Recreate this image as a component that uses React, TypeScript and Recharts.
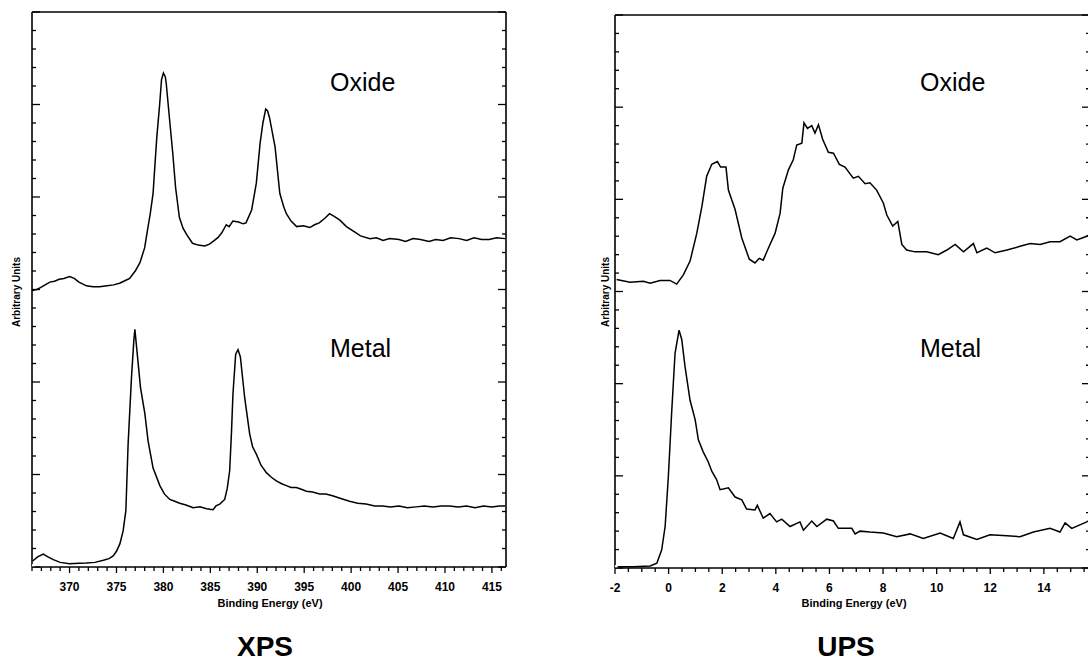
import React from 'react';
import { LineChart, Line, XAxis, YAxis } from 'recharts';

type P = { x: number; y: number };

// XPS: binding energy (eV) vs arbitrary intensity
const xpsOxide: P[] = [
  { x: 366.0, y: 2.99 }, { x: 366.5, y: 3.0 }, { x: 366.9, y: 3.02 }, { x: 367.4, y: 3.05 },
  { x: 367.9, y: 3.08 }, { x: 368.4, y: 3.09 }, { x: 368.9, y: 3.11 }, { x: 369.4, y: 3.12 },
  { x: 370.0, y: 3.14 }, { x: 370.5, y: 3.12 }, { x: 371.0, y: 3.08 }, { x: 371.8, y: 3.04 },
  { x: 372.5, y: 3.03 }, { x: 373.2, y: 3.03 }, { x: 374.0, y: 3.04 }, { x: 374.7, y: 3.05 },
  { x: 375.4, y: 3.07 }, { x: 376.0, y: 3.1 }, { x: 376.4, y: 3.12 }, { x: 377.0, y: 3.2 },
  { x: 377.5, y: 3.29 }, { x: 378.0, y: 3.45 }, { x: 378.3, y: 3.64 }, { x: 378.6, y: 3.82 },
  { x: 378.9, y: 4.04 }, { x: 379.1, y: 4.35 }, { x: 379.3, y: 4.65 }, { x: 379.6, y: 5.0 },
  { x: 379.8, y: 5.27 }, { x: 380.0, y: 5.34 }, { x: 380.2, y: 5.3 }, { x: 380.3, y: 5.23 },
  { x: 380.6, y: 4.9 }, { x: 381.0, y: 4.47 }, { x: 381.3, y: 4.1 }, { x: 381.7, y: 3.78 },
  { x: 382.1, y: 3.66 }, { x: 382.5, y: 3.59 }, { x: 383.1, y: 3.5 }, { x: 383.7, y: 3.48 },
  { x: 384.4, y: 3.47 }, { x: 384.9, y: 3.49 }, { x: 385.3, y: 3.52 }, { x: 385.8, y: 3.56 },
  { x: 386.2, y: 3.61 }, { x: 386.7, y: 3.7 }, { x: 387.0, y: 3.68 }, { x: 387.4, y: 3.74 },
  { x: 388.0, y: 3.73 }, { x: 388.5, y: 3.71 }, { x: 388.8, y: 3.72 }, { x: 389.4, y: 3.86 },
  { x: 389.9, y: 4.15 }, { x: 390.3, y: 4.58 }, { x: 390.6, y: 4.8 }, { x: 390.9, y: 4.95 },
  { x: 391.1, y: 4.93 }, { x: 391.3, y: 4.86 }, { x: 391.9, y: 4.54 }, { x: 392.4, y: 4.04 },
  { x: 392.8, y: 3.9 }, { x: 393.1, y: 3.82 }, { x: 393.6, y: 3.74 }, { x: 394.2, y: 3.68 },
  { x: 394.9, y: 3.69 }, { x: 395.6, y: 3.67 }, { x: 396.1, y: 3.7 }, { x: 396.6, y: 3.72 },
  { x: 397.2, y: 3.77 }, { x: 397.7, y: 3.82 }, { x: 398.2, y: 3.79 }, { x: 398.8, y: 3.75 },
  { x: 399.5, y: 3.68 }, { x: 400.4, y: 3.62 }, { x: 401.0, y: 3.58 }, { x: 402.0, y: 3.55 },
  { x: 402.7, y: 3.56 }, { x: 403.4, y: 3.53 }, { x: 404.1, y: 3.55 }, { x: 405.1, y: 3.54 },
  { x: 405.8, y: 3.52 }, { x: 406.6, y: 3.55 }, { x: 407.4, y: 3.54 }, { x: 408.3, y: 3.52 },
  { x: 409.0, y: 3.54 }, { x: 409.8, y: 3.53 }, { x: 410.6, y: 3.56 }, { x: 411.5, y: 3.55 },
  { x: 412.3, y: 3.53 }, { x: 413.1, y: 3.56 }, { x: 413.9, y: 3.54 }, { x: 414.7, y: 3.54 },
  { x: 415.5, y: 3.56 }, { x: 416.4, y: 3.55 },
];

const xpsMetal: P[] = [
  { x: 366.07, y: 0.065 }, { x: 366.6, y: 0.11 }, { x: 367.2, y: 0.14 }, { x: 367.7, y: 0.11 },
  { x: 368.27, y: 0.08 }, { x: 369.0, y: 0.05 }, { x: 370.0, y: 0.036 }, { x: 371.0, y: 0.04 },
  { x: 371.8, y: 0.043 }, { x: 372.7, y: 0.05 }, { x: 373.6, y: 0.073 }, { x: 374.2, y: 0.09 },
  { x: 374.65, y: 0.12 }, { x: 375.0, y: 0.17 }, { x: 375.36, y: 0.25 }, { x: 375.71, y: 0.39 },
  { x: 376.0, y: 0.61 }, { x: 376.24, y: 1.33 }, { x: 376.45, y: 1.75 }, { x: 376.6, y: 2.05 },
  { x: 376.85, y: 2.45 }, { x: 376.96, y: 2.57 }, { x: 377.14, y: 2.38 }, { x: 377.56, y: 1.94 },
  { x: 378.02, y: 1.66 }, { x: 378.37, y: 1.36 }, { x: 378.9, y: 1.07 }, { x: 379.62, y: 0.88 },
  { x: 380.1, y: 0.79 }, { x: 380.68, y: 0.73 }, { x: 381.2, y: 0.71 }, { x: 381.74, y: 0.69 },
  { x: 382.4, y: 0.67 }, { x: 383.16, y: 0.64 }, { x: 383.9, y: 0.65 }, { x: 384.59, y: 0.63 },
  { x: 385.29, y: 0.62 }, { x: 385.6, y: 0.66 }, { x: 386.0, y: 0.68 }, { x: 386.53, y: 0.73 },
  { x: 386.8, y: 0.85 }, { x: 387.06, y: 1.04 }, { x: 387.25, y: 1.45 }, { x: 387.41, y: 1.87 },
  { x: 387.7, y: 2.3 }, { x: 387.95, y: 2.35 }, { x: 388.2, y: 2.27 }, { x: 388.66, y: 1.83 },
  { x: 389.19, y: 1.44 }, { x: 389.5, y: 1.3 }, { x: 389.9, y: 1.22 }, { x: 390.4, y: 1.1 },
  { x: 390.97, y: 1.02 }, { x: 391.5, y: 0.97 }, { x: 392.03, y: 0.93 }, { x: 392.6, y: 0.9 },
  { x: 393.1, y: 0.88 }, { x: 393.6, y: 0.86 }, { x: 394.16, y: 0.86 }, { x: 394.7, y: 0.84 },
  { x: 395.22, y: 0.82 }, { x: 395.9, y: 0.81 }, { x: 396.64, y: 0.79 }, { x: 397.3, y: 0.79 },
  { x: 398.02, y: 0.77 }, { x: 398.9, y: 0.74 }, { x: 399.83, y: 0.71 }, { x: 400.7, y: 0.69 },
  { x: 401.6, y: 0.68 }, { x: 402.5, y: 0.66 }, { x: 403.34, y: 0.66 }, { x: 404.2, y: 0.65 },
  { x: 405.1, y: 0.66 }, { x: 406.0, y: 0.64 }, { x: 406.93, y: 0.65 }, { x: 407.8, y: 0.66 },
  { x: 408.7, y: 0.65 }, { x: 409.6, y: 0.66 }, { x: 410.47, y: 0.66 }, { x: 411.4, y: 0.65 },
  { x: 412.3, y: 0.66 }, { x: 413.2, y: 0.64 }, { x: 414.1, y: 0.66 }, { x: 415.0, y: 0.65 },
  { x: 415.79, y: 0.66 }, { x: 416.4, y: 0.66 },
];

// UPS
const upsOxide: P[] = [
  { x: -1.94, y: 3.13 }, { x: -1.44, y: 3.1 }, { x: -0.94, y: 3.11 }, { x: -0.69, y: 3.09 },
  { x: -0.32, y: 3.12 }, { x: 0.05, y: 3.12 }, { x: 0.3, y: 3.08 }, { x: 0.55, y: 3.18 },
  { x: 0.8, y: 3.33 }, { x: 1.05, y: 3.63 }, { x: 1.24, y: 3.92 }, { x: 1.42, y: 4.25 },
  { x: 1.61, y: 4.38 }, { x: 1.82, y: 4.41 }, { x: 1.94, y: 4.35 }, { x: 2.14, y: 4.35 },
  { x: 2.23, y: 4.1 }, { x: 2.48, y: 3.89 }, { x: 2.73, y: 3.58 }, { x: 3.01, y: 3.35 },
  { x: 3.22, y: 3.31 }, { x: 3.38, y: 3.36 }, { x: 3.53, y: 3.34 }, { x: 3.72, y: 3.47 },
  { x: 3.97, y: 3.63 }, { x: 4.16, y: 3.85 }, { x: 4.26, y: 4.12 }, { x: 4.47, y: 4.32 },
  { x: 4.65, y: 4.43 }, { x: 4.78, y: 4.59 }, { x: 4.97, y: 4.61 }, { x: 5.05, y: 4.83 },
  { x: 5.18, y: 4.77 }, { x: 5.34, y: 4.8 }, { x: 5.46, y: 4.72 }, { x: 5.59, y: 4.81 },
  { x: 5.75, y: 4.65 }, { x: 5.96, y: 4.51 }, { x: 6.15, y: 4.5 }, { x: 6.37, y: 4.38 },
  { x: 6.58, y: 4.35 }, { x: 6.89, y: 4.23 }, { x: 7.08, y: 4.25 }, { x: 7.33, y: 4.17 },
  { x: 7.51, y: 4.18 }, { x: 7.76, y: 4.1 }, { x: 8.01, y: 3.96 }, { x: 8.14, y: 3.83 },
  { x: 8.36, y: 3.71 }, { x: 8.55, y: 3.76 }, { x: 8.7, y: 3.51 }, { x: 8.88, y: 3.45 },
  { x: 9.19, y: 3.43 }, { x: 9.63, y: 3.43 }, { x: 10.06, y: 3.4 }, { x: 10.38, y: 3.45 },
  { x: 10.69, y: 3.51 }, { x: 11.0, y: 3.43 }, { x: 11.37, y: 3.52 }, { x: 11.5, y: 3.42 },
  { x: 11.87, y: 3.47 }, { x: 12.18, y: 3.42 }, { x: 12.62, y: 3.45 }, { x: 13.11, y: 3.49 },
  { x: 13.49, y: 3.52 }, { x: 13.86, y: 3.51 }, { x: 14.23, y: 3.54 }, { x: 14.6, y: 3.54 },
  { x: 14.98, y: 3.6 }, { x: 15.23, y: 3.56 }, { x: 15.6, y: 3.6 }, { x: 15.72, y: 3.62 },
];

const upsMetal: P[] = [
  { x: -1.94, y: 0.014 }, { x: -1.32, y: 0.014 }, { x: -0.69, y: 0.022 }, { x: -0.44, y: 0.051 },
  { x: -0.26, y: 0.195 }, { x: -0.13, y: 0.45 }, { x: -0.01, y: 0.99 }, { x: 0.12, y: 1.72 },
  { x: 0.24, y: 2.33 }, { x: 0.39, y: 2.58 }, { x: 0.49, y: 2.48 }, { x: 0.61, y: 2.19 },
  { x: 0.8, y: 1.82 }, { x: 0.99, y: 1.61 }, { x: 1.11, y: 1.39 }, { x: 1.29, y: 1.26 },
  { x: 1.48, y: 1.15 }, { x: 1.61, y: 1.05 }, { x: 1.79, y: 0.96 }, { x: 1.92, y: 0.85 },
  { x: 2.23, y: 0.87 }, { x: 2.48, y: 0.77 }, { x: 2.73, y: 0.74 }, { x: 2.91, y: 0.64 },
  { x: 3.22, y: 0.63 }, { x: 3.31, y: 0.68 }, { x: 3.53, y: 0.54 }, { x: 3.78, y: 0.59 },
  { x: 4.03, y: 0.5 }, { x: 4.22, y: 0.53 }, { x: 4.53, y: 0.45 }, { x: 4.9, y: 0.5 },
  { x: 5.03, y: 0.41 }, { x: 5.34, y: 0.51 }, { x: 5.53, y: 0.45 }, { x: 5.9, y: 0.53 },
  { x: 6.15, y: 0.51 }, { x: 6.33, y: 0.43 }, { x: 6.83, y: 0.43 }, { x: 6.96, y: 0.37 },
  { x: 7.14, y: 0.4 }, { x: 7.51, y: 0.39 }, { x: 8.01, y: 0.38 }, { x: 8.51, y: 0.34 },
  { x: 9.01, y: 0.37 }, { x: 9.5, y: 0.32 }, { x: 10.13, y: 0.38 }, { x: 10.62, y: 0.32 },
  { x: 10.87, y: 0.5 }, { x: 11.0, y: 0.36 }, { x: 11.5, y: 0.31 }, { x: 11.99, y: 0.36 },
  { x: 12.62, y: 0.35 }, { x: 13.11, y: 0.34 }, { x: 13.61, y: 0.39 }, { x: 14.23, y: 0.43 },
  { x: 14.6, y: 0.39 }, { x: 14.79, y: 0.49 }, { x: 15.04, y: 0.43 }, { x: 15.6, y: 0.5 },
  { x: 15.72, y: 0.52 },
];

const xpsTicks = [
  366, 367, 368, 369, 370, 371, 372, 373, 374, 375, 376, 377, 378, 379, 380, 381, 382,
  383, 384, 385, 386, 387, 388, 389, 390, 391, 392, 393, 394, 395, 396, 397, 398, 399,
  400, 401, 402, 403, 404, 405, 406, 407, 408, 409, 410, 411, 412, 413, 414, 415, 416,
];
const xpsLabels = [370, 375, 380, 385, 390, 395, 400, 405, 410, 415];

const upsTicks = [
  -2, -1.5, -1, -0.5, 0, 0.5, 1, 1.5, 2, 2.5, 3, 3.5, 4, 4.5, 5, 5.5, 6, 6.5, 7, 7.5, 8,
  8.5, 9, 9.5, 10, 10.5, 11, 11.5, 12, 12.5, 13, 13.5, 14, 14.5, 15, 15.5,
];
const upsLabels = [-2, 0, 2, 4, 6, 8, 10, 12, 14];

const yTicks = [
  0, 0.2, 0.4, 0.6, 0.8, 1, 1.2, 1.4, 1.6, 1.8, 2, 2.2, 2.4, 2.6, 2.8, 3, 3.2, 3.4, 3.6,
  3.8, 4, 4.2, 4.4, 4.6, 4.8, 5, 5.2, 5.4, 5.6, 5.8, 6,
];
const yMajor = [0, 1, 2, 3, 4, 5, 6];

const FONT = '"Liberation Sans", Arial, Helvetica, sans-serif';
const AX = { stroke: '#000', strokeWidth: 1.6 };

function makeXTick(labels: number[]) {
  return (props: any) => {
    const { x, y, payload } = props;
    const v = payload.value as number;
    const major = labels.includes(v);
    return (
      <g>
        <line x1={x} x2={x} y1={y} y2={y + (major ? 6 : 4)} stroke="#000" strokeWidth={1.3} />
        {major && (
          <text x={x} y={y + 24} textAnchor="middle" fontSize={12} fontWeight="bold" fontFamily={FONT} fill="#000">
            {v}
          </text>
        )}
      </g>
    );
  };
}

function makeYTick(dir: number) {
  return (props: any) => {
    const { x, y, payload } = props;
    const v = payload.value as number;
    const major = yMajor.some((m) => Math.abs(m - v) < 1e-6);
    return <line x1={x} x2={x + dir * (major ? 8 : 4)} y1={y} y2={y} stroke="#000" strokeWidth={1.3} />;
  };
}

function Spectrum(props: {
  width: number;
  height: number;
  margin: { top: number; right: number; left: number; bottom: number };
  xHeight: number;
  domain: [number, number];
  ticks: number[];
  labels: number[];
  series: P[][];
}) {
  const { width, height, margin, xHeight, domain, ticks, labels, series } = props;
  return (
    <LineChart width={width} height={height} margin={margin}>
      <XAxis
        xAxisId="b"
        type="number"
        dataKey="x"
        domain={domain}
        allowDataOverflow
        ticks={ticks}
        interval={0}
        height={xHeight}
        tickSize={0}
        tickMargin={0}
        tickLine={false}
        axisLine={AX}
        tick={makeXTick(labels)}
      />
      <XAxis
        xAxisId="t"
        orientation="top"
        type="number"
        dataKey="x"
        domain={domain}
        allowDataOverflow
        ticks={[domain[0]]}
        height={1}
        tick={false}
        tickLine={false}
        axisLine={AX}
      />
      <YAxis
        yAxisId="l"
        type="number"
        domain={[0, 6]}
        allowDataOverflow
        ticks={yTicks}
        interval={0}
        width={1}
        tickSize={0}
        tickMargin={0}
        tickLine={false}
        axisLine={AX}
        tick={makeYTick(1)}
      />
      <YAxis
        yAxisId="r"
        orientation="right"
        type="number"
        domain={[0, 6]}
        allowDataOverflow
        ticks={yTicks}
        interval={0}
        width={1}
        tickSize={0}
        tickMargin={0}
        tickLine={false}
        axisLine={AX}
        tick={makeYTick(-1)}
      />
      {series.map((d, i) => (
        <Line
          key={i}
          xAxisId="b"
          yAxisId="l"
          data={d}
          dataKey="y"
          type="linear"
          stroke="#000"
          strokeWidth={1.5}
          dot={false}
          activeDot={false}
          isAnimationActive={false}
        />
      ))}
      <Line
        xAxisId="t"
        yAxisId="r"
        data={[{ x: domain[0], y: 0 }]}
        dataKey="y"
        stroke="none"
        dot={false}
        activeDot={false}
        isAnimationActive={false}
      />
    </LineChart>
  );
}

export default function App() {
  const txt = { fontFamily: FONT, fill: '#000' } as const;
  return (
    <div style={{ position: 'fixed', left: 0, top: 0, width: 1088, height: 662, background: '#fff', overflow: 'hidden' }}>
      <div style={{ position: 'absolute', left: 0, top: 0 }}>
        <Spectrum
          width={520}
          height={620}
          margin={{ top: 11, right: 13, left: 31, bottom: 0 }}
          xHeight={53}
          domain={[366, 416.5]}
          ticks={xpsTicks}
          labels={xpsLabels}
          series={[xpsOxide, xpsMetal]}
        />
      </div>
      <div style={{ position: 'absolute', left: 560, top: 0 }}>
        <Spectrum
          width={531}
          height={620}
          margin={{ top: 14, right: 0, left: 54, bottom: 0 }}
          xHeight={52}
          domain={[-2, 15.72]}
          ticks={upsTicks}
          labels={upsLabels}
          series={[upsOxide, upsMetal]}
        />
      </div>
      <svg width={1088} height={662} style={{ position: 'absolute', left: 0, top: 0, pointerEvents: 'none' }}>
        <text x={330} y={91} fontSize={25} {...txt}>Oxide</text>
        <text x={330} y={357} fontSize={25} {...txt}>Metal</text>
        <text x={920} y={91} fontSize={25} {...txt}>Oxide</text>
        <text x={920} y={357} fontSize={25} {...txt}>Metal</text>
        <text x={270} y={607} fontSize={11} fontWeight="bold" textAnchor="middle" {...txt}>Binding Energy (eV)</text>
        <text x={854} y={607} fontSize={11} fontWeight="bold" textAnchor="middle" {...txt}>Binding Energy (eV)</text>
        <text x={20} y={292} fontSize={10} fontWeight="bold" textAnchor="middle" transform="rotate(-90 20 292)" {...txt}>Arbitrary Units</text>
        <text x={609} y={292} fontSize={10} fontWeight="bold" textAnchor="middle" transform="rotate(-90 609 292)" {...txt}>Arbitrary Units</text>
        <text x={265} y={656} fontSize={28} fontWeight="bold" textAnchor="middle" {...txt}>XPS</text>
        <text x={846} y={656} fontSize={28} fontWeight="bold" textAnchor="middle" {...txt}>UPS</text>
      </svg>
    </div>
  );
}
